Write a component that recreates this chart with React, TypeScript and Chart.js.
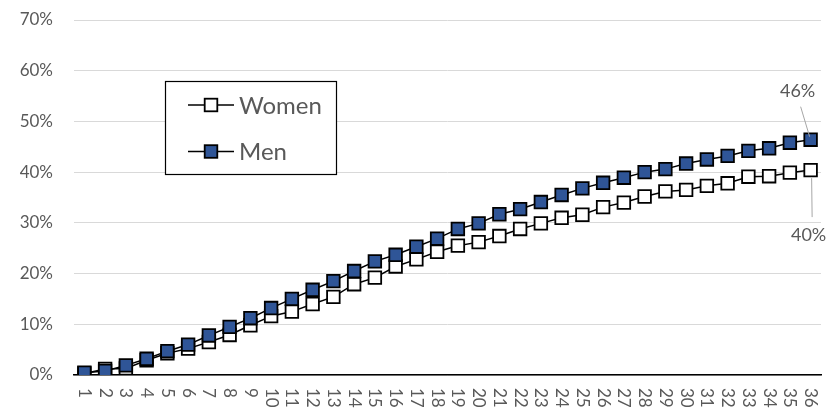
import { useEffect, useRef } from 'react';
import { Chart, registerables } from 'chart.js';

Chart.register(...registerables);

const categories = ['1','2','3','4','5','6','7','8','9','10','11','12','13','14','15','16','17','18','19','20','21','22','23','24','25','26','27','28','29','30','31','32','33','34','35','36'];
const women = [0.3, 1.2, 1.3, 2.9, 4.3, 5.2, 6.5, 7.9, 9.8, 11.6, 12.5, 14.0, 15.4, 17.9, 19.2, 21.4, 22.8, 24.3, 25.5, 26.2, 27.4, 28.8, 29.9, 31.0, 31.6, 33.1, 34.0, 35.2, 36.2, 36.5, 37.3, 37.8, 39.1, 39.2, 39.9, 40.4];
const men = [0.45, 0.8, 1.9, 3.2, 4.7, 6.0, 7.8, 9.5, 11.2, 13.2, 15.0, 16.8, 18.5, 20.5, 22.4, 23.7, 25.3, 26.9, 28.8, 29.9, 31.7, 32.7, 34.1, 35.5, 36.8, 37.9, 38.9, 40.0, 40.6, 41.7, 42.5, 43.2, 44.2, 44.7, 45.8, 46.4];
const seriesNames = ['Women', 'Men'];
const yTicks = [0, 10, 20, 30, 40, 50, 60, 70];

const FONT = 'Lato, "Open Sans", sans-serif';
const TEXT = '#595959';
const BLUE = '#2F5597';

const overlay = {
  id: 'overlay',
  afterDraw(chart: any) {
    const ctx = chart.ctx;
    const xs = chart.scales.x;
    const area = chart.chartArea;
    ctx.save();
    // rotated category labels (reading top to bottom)
    ctx.fillStyle = TEXT;
    ctx.font = `17px ${FONT}`;
    ctx.textAlign = 'left';
    ctx.textBaseline = 'middle';
    (chart.data.labels as string[]).forEach((l, i) => {
      const px = xs.getPixelForTick(i);
      ctx.save();
      ctx.translate(px, area.bottom + 13);
      ctx.rotate(Math.PI / 2);
      ctx.fillText(l, 0, 0);
      ctx.restore();
    });

    // end-value annotations with leader lines
    const drawAnno = (dsIndex: number, tx: number, ty: number, l1: number[], l2: number[]) => {
      const meta = chart.getDatasetMeta(dsIndex);
      const data = chart.data.datasets[dsIndex].data as number[];
      const last = data.length - 1;
      const pt = meta.data[last];
      ctx.strokeStyle = '#a6a6a6';
      ctx.lineWidth = 1;
      ctx.beginPath();
      ctx.moveTo(pt.x + l1[0], pt.y + l1[1]);
      ctx.lineTo(pt.x + l2[0], pt.y + l2[1]);
      ctx.stroke();
      ctx.fillStyle = TEXT;
      ctx.font = `18px ${FONT}`;
      ctx.textAlign = 'center';
      ctx.textBaseline = 'middle';
      ctx.fillText(Math.round(data[last]) + '%', pt.x + tx, pt.y + ty);
    };
    drawAnno(1, -13, -48, [-10, -33], [-1, -3]);
    drawAnno(0, -2, 65, [1, 8], [1.5, 47]);

    // legend box
    const bx = 165.5, by = 81.5, bw = 171, bh = 93;
    ctx.fillStyle = '#ffffff';
    ctx.fillRect(bx, by, bw, bh);
    ctx.strokeStyle = '#000000';
    ctx.lineWidth = 1.2;
    ctx.strokeRect(bx, by, bw, bh);
    const rows = [105, 151.5];
    chart.data.datasets.forEach((ds: any, i: number) => {
      const y = rows[i];
      ctx.strokeStyle = '#000';
      ctx.lineWidth = 1.5;
      ctx.beginPath();
      ctx.moveTo(188, y);
      ctx.lineTo(234, y);
      ctx.stroke();
      ctx.fillStyle = ds.pointBackgroundColor;
      ctx.lineWidth = 1.8;
      ctx.fillRect(211 - 6.3, y - 6.3, 12.6, 12.6);
      ctx.strokeRect(211 - 6.3, y - 6.3, 12.6, 12.6);
      ctx.fillStyle = TEXT;
      ctx.font = `24px ${FONT}`;
      ctx.textAlign = 'left';
      ctx.textBaseline = 'middle';
      ctx.fillText(ds.label, 239, y + 1);
    });
    ctx.restore();
  },
};

export default function App() {
  const ref = useRef<HTMLCanvasElement>(null);
  useEffect(() => {
    document.body.style.margin = '0';
    const chart = new Chart(ref.current as HTMLCanvasElement, {
      type: 'line',
      data: {
        labels: categories,
        datasets: [
          {
            label: seriesNames[0],
            data: women,
            order: 1,
            borderColor: '#000000',
            borderWidth: 1.5,
            pointStyle: 'rect',
            pointRadius: 8.9,
            pointBorderWidth: 1.8,
            pointBackgroundColor: '#ffffff',
            pointBorderColor: '#000000',
            tension: 0,
          },
          {
            label: seriesNames[1],
            data: men,
            order: 0,
            borderColor: '#000000',
            borderWidth: 1.5,
            pointStyle: 'rect',
            pointRadius: 8.9,
            pointBorderWidth: 1.8,
            pointBackgroundColor: BLUE,
            pointBorderColor: '#000000',
            tension: 0,
          },
        ],
      },
      options: {
        animation: false,
        responsive: true,
        maintainAspectRatio: false,
        layout: { padding: { left: 0, top: 20, right: 17, bottom: 0 } },
        plugins: { legend: { display: false }, tooltip: { enabled: false } },
        scales: {
          x: {
            type: 'category',
            offset: true,
            grid: { display: false, drawTicks: false },
            border: { display: true, color: '#000000', width: 1.5 },
            ticks: { display: false },
            afterFit: (s: any) => { s.height = 37; s.paddingLeft = 0; s.paddingRight = 0; },
          },
          y: {
            min: 0,
            max: 70,
            afterBuildTicks: (s: any) => { s.ticks = yTicks.map((v) => ({ value: v })); },
            grid: { color: '#d9d9d9', lineWidth: 1, drawTicks: false },
            border: { display: false },
            ticks: {
              padding: 21,
              color: TEXT,
              font: { family: FONT, size: 17 },
              callback: (v: any) => v + '%',
            },
            afterFit: (s: any) => { s.width = 74; s.paddingTop = 0; s.paddingBottom = 0; },
          },
        },
      },
      plugins: [overlay],
    });
    return () => chart.destroy();
  }, []);
  return (
    <div style={{ width: 838, height: 412, position: 'relative' }}>
      <canvas ref={ref} />
    </div>
  );
}
